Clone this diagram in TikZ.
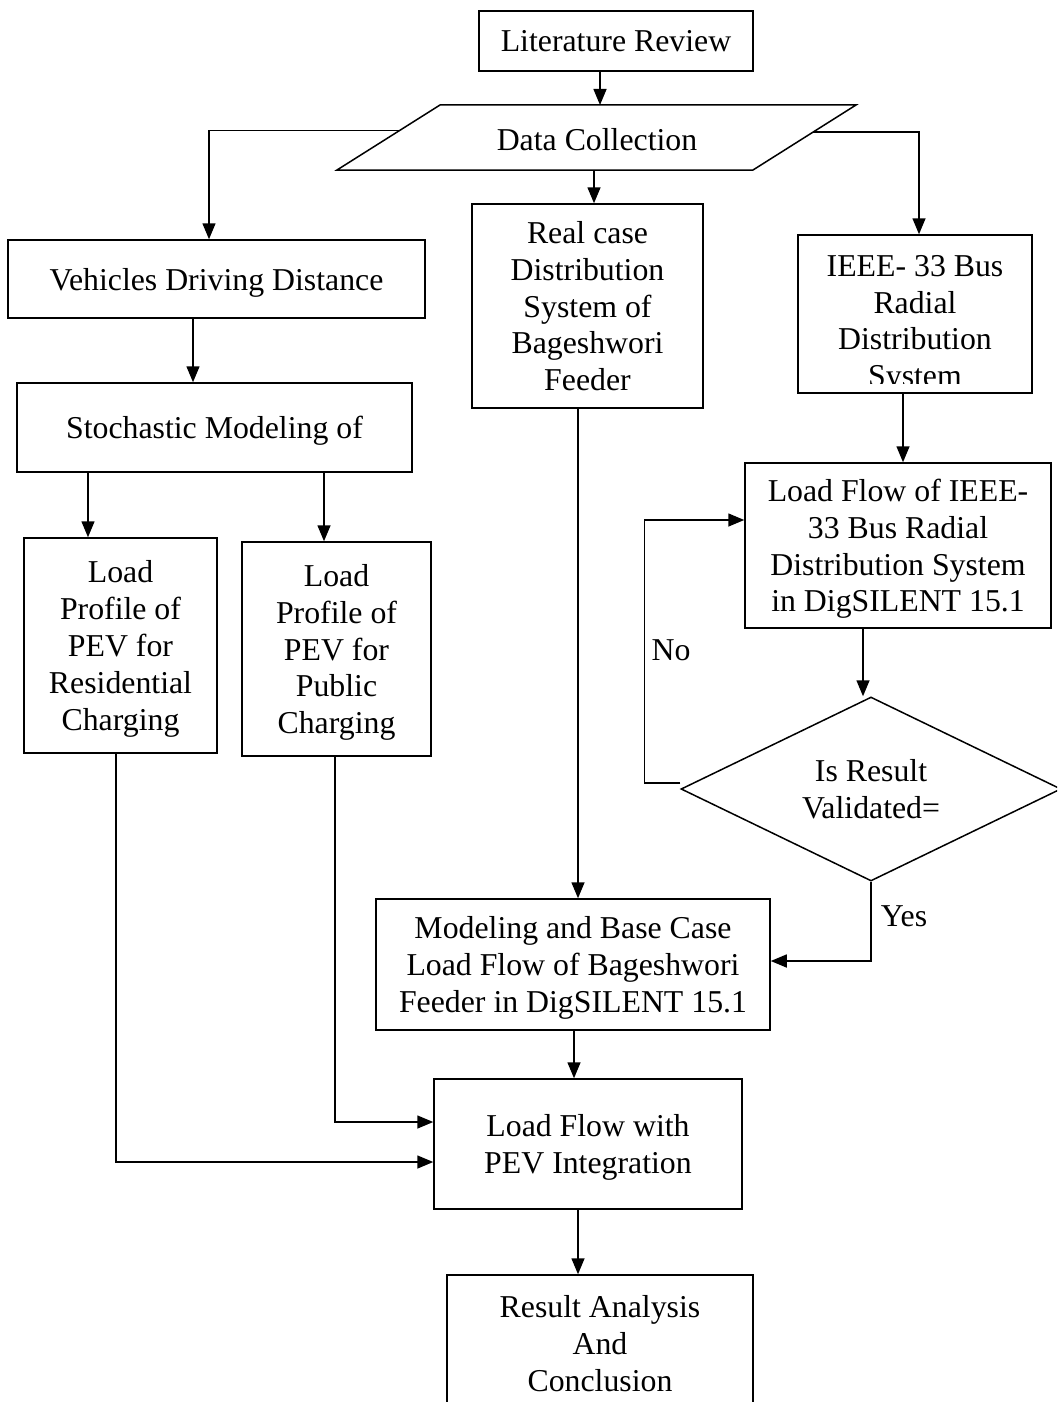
\documentclass[tikz,border=0pt]{standalone}
\usepackage{fontspec}
\setmainfont{Liberation Serif}
\usetikzlibrary{arrows.meta,shapes.geometric,calc}
\begin{document}
\begin{tikzpicture}[x=1pt,y=-1pt,
  every node/.style={font=\fontsize{31.8pt}{36.8pt}\selectfont},
  box/.style={draw,line width=1.5pt,rectangle,inner sep=0pt,align=center,text depth=0pt},
  arr/.style={-{Triangle[length=16pt,width=13pt]},line width=1.5pt},
  ln/.style={line width=1.5pt}]
\clip (0,0) rectangle (1057,1402);
\fill[white] (0,0) rectangle (1057,1402);

% boxes
\node[box,minimum width=274pt,minimum height=60pt] (lit) at (616,41) {Literature Review};
\node[align=center,text depth=0pt] (data) at (597,139) {Data Collection};
\draw[ln] (440,105) -- (856,105) -- (753,170) -- (337,170) -- cycle;
\coordinate (dtop) at (600,105);
\coordinate (dbot) at (594,170);
\coordinate (dL) at (399,130.5);
\coordinate (dR) at (813,132);

\node[box,minimum width=231pt,minimum height=204pt] (real) at (587.5,306)
  {Real case\\Distribution\\System of\\Bageshwori\\Feeder};
\node[box,minimum width=417pt,minimum height=78pt] (veh) at (216.5,279) {Vehicles Driving Distance};
\node[box,minimum width=234pt,minimum height=158pt] (ieee) at (915,314) {};
\begin{scope}
\clip (798,235) rectangle (1032,383.5);
\node[align=center] (ieeetxt) at (915,324.5) {IEEE- 33 Bus\\Radial\\Distribution\\System};
\end{scope}
\node[box,minimum width=395pt,minimum height=89pt] (stoch) at (214.5,427.5) {Stochastic Modeling of};
\node[box,minimum width=193pt,minimum height=215pt] (res) at (120.5,645.5)
  {Load\\Profile of\\PEV for\\Residential\\Charging};
\node[box,minimum width=189pt,minimum height=214pt] (pub) at (336.5,649)
  {Load\\Profile of\\PEV for\\Public\\Charging};
\node[box,minimum width=306pt,minimum height=165pt] (lfi) at (898,545.5)
  {Load Flow of IEEE-\\33 Bus Radial\\Distribution System\\in DigSILENT 15.1};
\node[draw,line width=1.5pt,diamond,inner sep=0pt,aspect=2.07,align=center,text depth=0pt,
  minimum width=380pt,minimum height=184pt] (dia) at (871,789) {Is Result\\Validated=};
\node[box,minimum width=394pt,minimum height=131pt] (mod) at (573,964.5)
  {Modeling and Base Case\\Load Flow of Bageshwori\\Feeder in DigSILENT 15.1};
\node[box,minimum width=308pt,minimum height=130pt] (pev) at (588,1144)
  {Load Flow with\\PEV Integration};
\node[box,minimum width=306pt,minimum height=137pt] (resa) at (600,1343.5)
  {Result Analysis\\And\\Conclusion};

\node (no) at (671,650) {No};
\node (yes) at (904,916) {Yes};

% connectors
\draw[arr] (lit.south -| dtop) -- (dtop);
\draw[arr] (dbot) -- (dbot |- real.north);
\draw[arr] (dL) -| ([xshift=-7.5pt]veh.north);
\draw[arr] (dR) -| ([xshift=4pt]ieee.north);
\draw[arr] ([xshift=-23.5pt]veh.south) -- ([xshift=-23.5pt]veh.south |- stoch.north);
\draw[arr] ([xshift=-32.5pt]res.north |- stoch.south) -- ([xshift=-32.5pt]res.north);
\draw[arr] ([xshift=-12.5pt]pub.north |- stoch.south) -- ([xshift=-12.5pt]pub.north);
\draw[arr] ([xshift=-12pt]ieee.south) -- ([xshift=-12pt]ieee.south |- lfi.north);
\draw[arr] ([xshift=-35pt]lfi.south) -- ([xshift=-35pt]lfi.south |- dia.north);
\draw[arr] ([yshift=6pt]dia.west) -- ++(-36,0) |- ([yshift=25.5pt]lfi.west);
\draw[arr] (dia.south) |- ([yshift=3.5pt]mod.east);
\draw[arr] ([xshift=-9.5pt]real.south) -- ([xshift=-9.5pt]real.south |- mod.north);
\draw[arr] ([xshift=1pt]mod.south) -- ([xshift=1pt]mod.south |- pev.north);
\draw[arr] ([xshift=-4.5pt]res.south) |- ([yshift=-18pt]pev.west);
\draw[arr] ([xshift=-1.5pt]pub.south) |- ([yshift=22pt]pev.west);
\draw[arr] ([xshift=-10pt]pev.south) -- ([xshift=-10pt]pev.south |- resa.north);
\end{tikzpicture}
\end{document}
